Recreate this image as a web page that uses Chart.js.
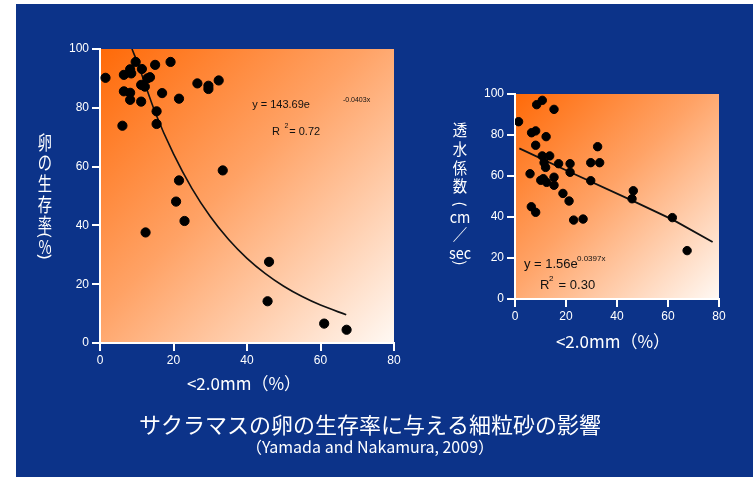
<!DOCTYPE html>
<html>
<head>
<meta charset="utf-8">
<script src="https://cdn.jsdelivr.net/npm/chart.js@4.4.1/dist/chart.umd.min.js"></script>
<style>
	html, body { margin: 0; padding: 0; background: #fff; }
	#wrap { position: relative; width: 753px; height: 477px; overflow: hidden; }
	#bg { position: absolute; left: 16px; top: 4px; right: 0; bottom: 0; background: #0c3389; }
	canvas { position: absolute; left: 0; top: 0; }
</style>
</head>
<body>
<div id="wrap">
	<div id="bg"></div>
	<canvas id="eggChart" width="753" height="477"></canvas>
	<canvas id="permChart" width="753" height="477"></canvas>
</div>
<script>
	// 軸の目盛
	const xTicks = [0, 20, 40, 60, 80];
	const yTicks = [0, 20, 40, 60, 80, 100];

	// 卵の生存率 (%) と <2.0mm (%)
	const eggFine = [1.5, 6.5, 8.2, 8.5, 9.7, 11.4, 15.0, 19.2, 6.5, 8.2, 8.2, 11.2, 11.2, 12.2, 12.9, 13.6, 16.9,
		15.4, 15.4, 6.1, 21.5, 26.5, 29.5, 29.5, 32.3, 33.4, 21.5, 20.7, 23.0, 12.4, 46.0, 45.6, 61.0, 67.1];
	const eggSurvival = [90.2, 91.2, 93.1, 91.7, 95.6, 93.2, 94.6, 95.6, 85.6, 85.1, 82.7, 82.1, 87.8, 87.2, 90.0, 90.4, 85.0,
		78.8, 74.5, 73.9, 83.1, 88.3, 87.5, 86.4, 89.3, 58.7, 55.3, 48.1, 41.5, 37.6, 27.6, 14.2, 6.6, 4.5];
	// 近似曲線 (y = 143.69e^-0.0403x) を図から読み取った点
	const eggFitX = [8.7, 10, 15, 20, 25, 30, 35, 40, 45, 50, 55, 60, 67];
	const eggFitY = [100, 96.0, 78.5, 64.3, 52.6, 43.0, 35.2, 28.8, 23.6, 19.3, 15.8, 12.9, 9.6];

	// 透水係数 (cm/sec) と <2.0mm (%)
	const permFine = [1.4, 8.5, 10.7, 15.3, 6.5, 8.1, 12.2, 8.1, 10.7, 13.6, 11.4, 12.0, 17.1, 21.6, 21.6, 29.7, 32.4, 33.2,
		5.9, 10.1, 11.1, 12.4, 15.3, 15.3, 18.8, 21.2, 29.7, 6.4, 8.1, 23.0, 26.7, 46.4, 45.9, 61.7, 67.5];
	const permValue = [86.5, 94.8, 96.9, 92.5, 81.1, 82.0, 79.2, 75.0, 69.8, 69.8, 66.5, 64.2, 66.0, 66.0, 61.8, 66.5, 74.3, 66.5,
		61.1, 57.9, 58.7, 56.9, 59.4, 55.5, 51.5, 47.8, 57.7, 45.0, 42.3, 38.5, 39.0, 52.8, 48.9, 39.7, 23.6];
	const permFitX = [1.7, 20, 46, 62, 77.5];
	const permFitY = [73.5, 62.8, 48.0, 38.6, 27.8];

	const NUM_FONT = '"Liberation Sans", Arial, "Noto Sans CJK JP", sans-serif';
	const JP_FONT = '"Noto Sans CJK JP", "Liberation Sans", sans-serif';

	const toPoints = (xs, ys) => xs.map((x, i) => ({ x: x, y: ys[i] }));

	// チャート領域のグラデーション背景
	const areaGradient = {
		id: 'areaGradient',
		beforeDraw(chart) {
			const { ctx, chartArea: a } = chart;
			const g = ctx.createLinearGradient(a.left, a.top, a.right, a.bottom);
			g.addColorStop(0, '#ff6a08');
			g.addColorStop(0.45, '#ffa265');
			g.addColorStop(1, '#fff9f4');
			ctx.save();
			ctx.fillStyle = g;
			ctx.fillRect(a.left, a.top, a.right - a.left, a.bottom - a.top);
			ctx.restore();
		}
	};

	function makeScales(yWidth, xHeight, fontSize) {
		const tickFont = { family: NUM_FONT, size: fontSize };
		return {
			x: {
				type: 'linear', min: xTicks[0], max: xTicks[xTicks.length - 1],
				afterBuildTicks: s => { s.ticks = xTicks.map(v => ({ value: v })); },
				ticks: { color: '#fff', font: tickFont, padding: 2 },
				grid: { drawOnChartArea: false, color: '#fff', lineWidth: 2, tickLength: 8 },
				border: { color: '#fff', width: 2 },
				afterFit: s => { s.height = xHeight; }
			},
			y: {
				type: 'linear', min: yTicks[0], max: yTicks[yTicks.length - 1],
				afterBuildTicks: s => { s.ticks = yTicks.map(v => ({ value: v })); },
				ticks: { color: '#fff', font: tickFont, padding: 3 },
				grid: { drawOnChartArea: false, color: '#fff', lineWidth: 2, tickLength: 8 },
				border: { color: '#fff', width: 2 },
				afterFit: s => { s.width = yWidth; }
			}
		};
	}

	// 縦書きの軸タイトル (sx で横幅を詰める)
	function drawStack(ctx, x, items, font, sx) {
		ctx.font = font;
		ctx.textAlign = 'center';
		ctx.textBaseline = 'middle';
		items.forEach(([t, y, rot]) => {
			ctx.save();
			ctx.translate(x, y);
			ctx.scale(sx || 1, 1);
			if (rot) ctx.rotate(rot);
			ctx.fillText(t, 0, 0);
			ctx.restore();
		});
	}

	function drawText(ctx, t, x, y, font, align) {
		ctx.font = font;
		ctx.textAlign = align || 'left';
		ctx.textBaseline = 'middle';
		ctx.fillText(t, x, y);
	}

	const eggText = {
		id: 'eggText',
		afterDraw(chart) {
			const { ctx, scales } = chart;
			const px = v => scales.x.getPixelForValue(v);
			const py = v => scales.y.getPixelForValue(v);
			ctx.save();
			// 近似式
			ctx.fillStyle = '#111';
			drawText(ctx, 'y = 143.69e', px(41.4), py(81.0), '11px ' + NUM_FONT);
			drawText(ctx, '-0.0403x', px(66.1), py(82.7), '7px ' + NUM_FONT);
			drawText(ctx, 'R', px(46.8), py(71.8), '11px ' + NUM_FONT);
			drawText(ctx, '2', px(50.2), py(73.8), '7px ' + NUM_FONT);
			drawText(ctx, '= 0.72', px(51.5), py(71.8), '11px ' + NUM_FONT);
			// 軸タイトル
			ctx.fillStyle = '#fff';
			drawText(ctx, '<2.0mm（%）', 244, 384, '17px ' + JP_FONT, 'center');
			drawStack(ctx, 45, [
				['卵', 143], ['の', 163], ['生', 184], ['存', 205], ['率', 225],
				['(', 235, Math.PI / 2], ['%', 247], [')', 257, Math.PI / 2]
			], '19px ' + JP_FONT, 0.75);
			// タイトル
			drawText(ctx, 'サクラマスの卵の生存率に与える細粒砂の影響', 370, 425, '22px ' + JP_FONT, 'center');
			drawText(ctx, '（Yamada and Nakamura, 2009）', 370, 447, '16px ' + JP_FONT, 'center');
			ctx.restore();
		}
	};

	const permText = {
		id: 'permText',
		afterDraw(chart) {
			const { ctx, scales } = chart;
			const px = v => scales.x.getPixelForValue(v);
			const py = v => scales.y.getPixelForValue(v);
			ctx.save();
			ctx.fillStyle = '#111';
			drawText(ctx, 'y = 1.56e', px(3.5), py(17.1), '13px ' + NUM_FONT);
			drawText(ctx, '0.0397x', px(24.3), py(19.5), '8px ' + NUM_FONT);
			drawText(ctx, 'R', px(9.8), py(6.8), '13px ' + NUM_FONT);
			drawText(ctx, '2', px(13.3), py(9.8), '8px ' + NUM_FONT);
			drawText(ctx, '= 0.30', px(17.1), py(6.8), '13px ' + NUM_FONT);
			ctx.fillStyle = '#fff';
			drawText(ctx, '<2.0mm（%）', 613, 342, '17px ' + JP_FONT, 'center');
			drawStack(ctx, 460, [
				['透', 130], ['水', 149], ['係', 168], ['数', 186],
				['(', 204, Math.PI / 2], ['cm', 217], ['／', 234], ['sec', 253], [')', 263, Math.PI / 2]
			], '16px ' + JP_FONT, 0.9);
			ctx.restore();
		}
	};

	const eggCtx = document.getElementById('eggChart').getContext('2d');
	const eggConfig = {
		type: 'scatter',
		data: {
			datasets: [
				{
					label: '卵の生存率',
					data: toPoints(eggFine, eggSurvival),
					backgroundColor: '#000',
					borderColor: '#000',
					pointRadius: 4.6,
					pointHoverRadius: 4.6
				},
				{
					label: '近似曲線',
					data: toPoints(eggFitX, eggFitY),
					showLine: true,
					borderColor: '#111',
					borderWidth: 1.6,
					pointRadius: 0,
					cubicInterpolationMode: 'monotone',
					fill: false
				}
			]
		},
		options: {
			responsive: false,
			animation: false,
			layout: { padding: { left: 60, top: 49, right: 359, bottom: 104 } },
			scales: makeScales(40, 30, 12),
			plugins: { legend: { display: false }, tooltip: { enabled: false } }
		},
		plugins: [areaGradient, eggText]
	};

	const permCtx = document.getElementById('permChart').getContext('2d');
	const permConfig = {
		type: 'scatter',
		data: {
			datasets: [
				{
					label: '透水係数',
					data: toPoints(permFine, permValue),
					backgroundColor: '#000',
					borderColor: '#000',
					pointRadius: 4.2,
					pointHoverRadius: 4.2
				},
				{
					label: '近似直線',
					data: toPoints(permFitX, permFitY),
					showLine: true,
					borderColor: '#111',
					borderWidth: 1.8,
					pointRadius: 0,
					fill: false
				}
			]
		},
		options: {
			responsive: false,
			animation: false,
			layout: { padding: { left: 475, top: 94, right: 34, bottom: 148 } },
			scales: makeScales(40, 30, 12),
			plugins: { legend: { display: false }, tooltip: { enabled: false } }
		},
		plugins: [areaGradient, permText]
	};

	let eggChart = new Chart(eggCtx, eggConfig);
	let permChart = new Chart(permCtx, permConfig);
</script>
</body>
</html>
